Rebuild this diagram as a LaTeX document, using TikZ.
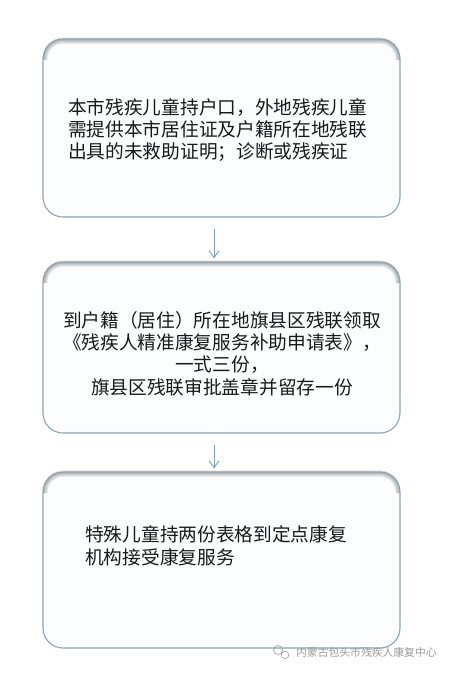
\documentclass[tikz,border=0pt]{standalone}
\usepackage{fontspec}
\newfontfamily\cjk{Noto Sans CJK SC}
\usetikzlibrary{arrows.meta,shadows}
\definecolor{boxline}{HTML}{8DA3B2}
\definecolor{boxfill}{HTML}{FCFDFF}
\definecolor{arrowline}{HTML}{7A9FBA}
\definecolor{markgray}{HTML}{9A9A9A}
\begin{document}
\begin{tikzpicture}[x=1pt, y=-1pt,
% common options for the rounded boxes:
box/.style = {draw=boxline, line width=1.1pt, fill=boxfill, rounded corners=20pt,
            minimum width=357pt, inner sep=0,
            drop shadow={shadow xshift=0pt, shadow yshift=1.5pt, opacity=0.25, fill=gray},
            path picture={\foreach \w in {9,6,3}
              \draw[line width=\w pt, draw=black, opacity=0.11, rounded corners=20pt]
                ([yshift=-21pt]path picture bounding box.north west) --
                (path picture bounding box.north west) --
                (path picture bounding box.north east) --
                ([yshift=-21pt]path picture bounding box.north east);}},
% common options for the texts:
txt/.style = {font=\cjk\fontsize{18.7}{22.4}\selectfont, inner sep=0, text=black!90},
% common options for the arrows:
link/.style = {draw=arrowline, line width=0.9pt, -{Straight Barb[length=7pt,width=10pt]},
            shorten <=11pt, shorten >=3pt}]
\fill[white] (0,0) rectangle (453,673);
\useasboundingbox (0,0) rectangle (453,673);
\node[box, minimum height=178pt] (B1) at (221.5,128) {};
\node[box, minimum height=171pt] (B2) at (221.5,347.5) {};
\node[box, minimum height=176pt] (B3) at (221.5,560) {};
\node[txt, align=left, anchor=west] (T1) at (68,130)
  {本市残疾儿童持户口，外地残疾儿童\\需提供本市居住证及户籍所在地残联\\出具的未救助证明；诊断或残疾证};
\node[txt, align=center] (T2) at (222,353.5)
  {到户籍（居住）所在地旗县区残联领取\\《残疾人精准康复服务补助申请表》，\\一式三份，\\旗县区残联审批盖章并留存一份};
\node[txt, align=left, anchor=west] (T3) at (85,546)
  {特殊儿童持两份表格到定点康复\\机构接受康复服务};
\draw[link] ([xshift=-7.5pt]B1.south) to ([xshift=-7.5pt]B2.north);
\draw[link] ([xshift=-7.5pt]B2.south) to ([xshift=-7.5pt]B3.north);
% watermark
\draw[markgray, line width=0.6pt] (278,650) circle (4.5pt) (285,655) circle (3.8pt);
\node[font=\cjk\fontsize{10.8}{12}\selectfont, text=markgray, anchor=west, inner sep=0]
  (W) at (296,652) {内蒙古包头市残疾人康复中心};
\end{tikzpicture}
\end{document}
